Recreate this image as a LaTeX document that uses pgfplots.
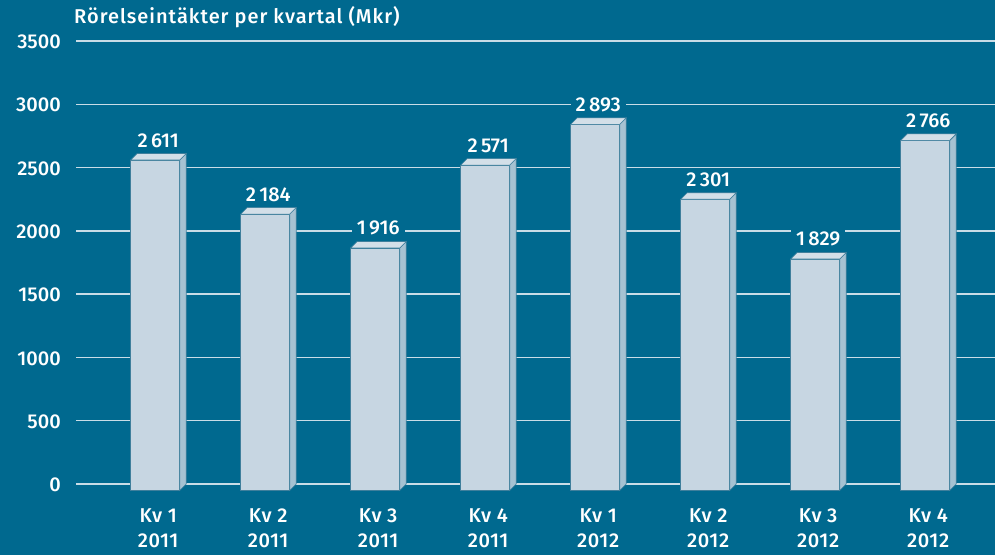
\documentclass[border=0pt]{standalone}
\usepackage{pgfplots}
\pgfplotsset{compat=1.18}
\usepackage{pgfplotstable}
\usepackage{fontspec}
\setmainfont{Fira Sans}[UprightFont={* Medium}]
\definecolor{bg}{HTML}{00698F}
\definecolor{gridc}{HTML}{C9DDE7}
\definecolor{face}{HTML}{C7D6E2}
\definecolor{side}{HTML}{A6C2D2}
\definecolor{topf}{HTML}{D3DFE8}
\definecolor{edge}{HTML}{3F7F9C}
\pgfdeclareplotmark{emptymark}{}
\pgfplotstableread{
x y
0 2611
1 2184
2 1916
3 2571
4 2893
5 2301
6 1829
7 2766
}\data
\begin{document}
\begin{tikzpicture}
\fill[bg] (0,0) rectangle (995pt,555pt);
\useasboundingbox (0,0) rectangle (995pt,555pt);
\begin{axis}[
  at={(76pt,71pt)}, anchor=south west,
  scale only axis, width=919pt, height=443pt,
  xmin=-0.72, xmax=7.6345, ymin=0, ymax=3500,
  clip=false,
  axis line style={draw=none},
  major tick length=0pt,
  ymajorgrids, grid style={gridc, line width=1.3pt},
  ytick={0,500,...,3500},
  /pgf/number format/1000 sep={},
  /pgf/number format/assume math mode=true,
  yticklabel style={anchor=east, inner sep=0pt, xshift=-15pt, yshift=-1pt, white, font=\fontsize{20}{24}\selectfont},
  xtick={0,...,7},
  xticklabels={{Kv 1\\2011},{Kv 2\\2011},{Kv 3\\2011},{Kv 4\\2011},{Kv 1\\2012},{Kv 2\\2012},{Kv 3\\2012},{Kv 4\\2012}},
  xticklabel style={align=center, anchor=north, inner sep=0pt, yshift=-24pt, xshift=3pt, white, font=\fontsize{20}{25}\selectfont\addfontfeatures{LetterSpace=3}},
  title={Rörelseintäkter per kvartal (Mkr)},
  title style={at={(0,1)}, anchor=south west, inner sep=0pt, yshift=7pt, xshift=-2pt, white, font=\fontsize{20}{24}\selectfont\addfontfeatures{LetterSpace=5}},
]
\addplot[ybar, bar width=49pt, fill=face, draw=edge, line width=0.6pt, yshift=-6.5pt] table[x=x,y=y] {\data};
\addplot[scatter, only marks, mark=emptymark,
  visualization depends on={rawy \as \yv},
  scatter/@pre marker code/.code={%
    \pgfmathsetmacro{\hh}{\yv/3500*443}%
    \filldraw[fill=side, draw=edge, line width=0.6pt] (24.5pt,-6.5pt) -- (31pt,0pt) -- (31pt,-\hh pt) -- (24.5pt,-\hh pt-6.5pt) -- cycle;
    \filldraw[fill=topf, draw=edge, line width=0.6pt] (-24.5pt,-6.5pt) -- (-18pt,0pt) -- (31pt,0pt) -- (24.5pt,-6.5pt) -- cycle;
  },
  scatter/@post marker code/.code={},
] table[x=x,y=y] {\data};
\addplot[draw=none, mark=none, point meta=y,
  nodes near coords={\pgfmathprintnumber[1000 sep={\,}]{\pgfplotspointmeta}},
  every node near coord/.style={anchor=south, fill=bg, text=white, inner xsep=5pt, inner ysep=2pt, yshift=4pt, xshift=3pt, font=\fontsize{20}{24}\selectfont},
] table[x=x,y=y] {\data};
\end{axis}
\end{tikzpicture}
\end{document}
